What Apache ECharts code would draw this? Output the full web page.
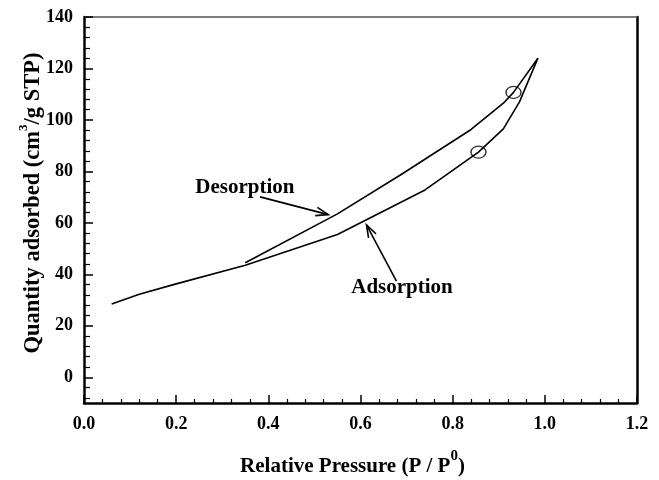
<!DOCTYPE html>
<html>
<head>
<meta charset="utf-8">
<script src="https://cdn.jsdelivr.net/npm/echarts@6/dist/echarts.min.js"></script>
<style>
  html, body { margin: 0; padding: 0; background: #fff; }
  #chart { width: 659px; height: 480px; }
</style>
</head>
<body>
<div id="chart"></div>
<script>
// Nitrogen isotherm: adsorption and desorption branches
const adsX = [0.06, 0.12, 0.20, 0.35, 0.55, 0.74, 0.856, 0.91, 0.945, 0.985];
const adsY = [28.5, 32.3, 36.3, 43.5, 55.5, 72.8, 87.5, 96.5, 107, 124];
const desX = [0.35, 0.55, 0.69, 0.84, 0.91, 0.932, 0.985];
const desY = [44.5, 63.5, 79, 96.3, 106.5, 110.7, 124];
// circled points on each branch
const circleX = [0.856, 0.932];
const circleY = [87.5, 110.7];
// axis ticks
const yMajor = [0, 20, 40, 60, 80, 100, 120, 140];
const yMinor = [-8, -4, 4, 8, 12, 16, 24, 28, 32, 36, 44, 48, 52, 56, 64, 68, 72, 76,
  84, 88, 92, 96, 104, 108, 112, 116, 124, 128, 132, 136];

const font = '"Liberation Serif", "Times New Roman", serif';
const pair = (xs, ys) => xs.map((v, i) => [v, ys[i]]);

const supRich = (size, supSize, lh) => ({
  a: { fontFamily: font, fontWeight: 'bold', fontSize: size, color: '#000', lineHeight: lh },
  s: { fontFamily: font, fontWeight: 'bold', fontSize: supSize, color: '#000', lineHeight: supSize, verticalAlign: 'top' }
});

const chart = echarts.init(document.getElementById('chart'));

chart.setOption({
  animation: false,
  grid: { left: 84, right: 22, top: 17, bottom: 77, containLabel: false, outerBoundsMode: 'none' },
  xAxis: [
    {
      type: 'value', min: 0, max: 1.2, interval: 0.2,
      axisLine: { show: true, onZero: false, lineStyle: { color: '#000', width: 2.5 } },
      axisTick: { show: true, inside: true, length: 8, lineStyle: { color: '#000', width: 1.5 } },
      minorTick: { show: true, splitNumber: 5, length: 4, lineStyle: { color: '#000', width: 1.2 } },
      splitLine: { show: false },
      axisLabel: { fontFamily: font, fontWeight: 'bold', fontSize: 18, color: '#000', margin: 12,
        formatter: v => v.toFixed(1) },
      name: '{a|Relative Pressure (P / P}{s|0}{a|)}',
      nameLocation: 'middle', nameGap: 46, nameMoveOverlap: false,
      nameTextStyle: { padding: [0, 16, 0, 0], rich: supRich(21, 15, 36) }
    },
    {
      type: 'value', min: 0, max: 1.2, position: 'top',
      axisLine: { show: true, onZero: false, lineStyle: { color: '#555', width: 1.5 } },
      axisTick: { show: false }, axisLabel: { show: false }, splitLine: { show: false }
    }
  ],
  yAxis: [
    {
      type: 'value', min: -10, max: 140,
      axisLine: { show: true, onZero: false, lineStyle: { color: '#000', width: 2.5 } },
      axisTick: { show: true, inside: true, length: 9, customValues: yMajor, lineStyle: { color: '#000', width: 1.5 } },
      splitLine: { show: false },
      axisLabel: { fontFamily: font, fontWeight: 'bold', fontSize: 18, color: '#000', margin: 11,
        customValues: yMajor },
      name: '{a|Quantity adsorbed (cm}{s|3}{a|/g STP)}',
      nameLocation: 'middle', nameGap: 35, nameMoveOverlap: false,
      nameTextStyle: { padding: [0, 0, 0, 14], rich: supRich(22.5, 13, 32) }
    },
    {
      // short intermediate ticks on the left axis
      type: 'value', min: -10, max: 140, position: 'left',
      axisLine: { show: false },
      axisTick: { show: true, inside: true, length: 6, customValues: yMinor, lineStyle: { color: '#000', width: 1.2 } },
      axisLabel: { show: false }, splitLine: { show: false }
    },
    {
      type: 'value', min: -10, max: 140, position: 'right',
      axisLine: { show: true, onZero: false, lineStyle: { color: '#000', width: 2.5 } },
      axisTick: { show: false }, axisLabel: { show: false }, splitLine: { show: false }
    }
  ],
  series: [
    {
      name: 'Adsorption', type: 'line', data: pair(adsX, adsY),
      showSymbol: false, lineStyle: { color: '#000', width: 1.6 }
    },
    {
      name: 'Desorption', type: 'line', data: pair(desX, desY),
      showSymbol: false, lineStyle: { color: '#000', width: 1.6 }
    },
    {
      name: 'marked', type: 'scatter', data: pair(circleX, circleY),
      symbol: 'circle', symbolSize: [15, 12],
      itemStyle: { color: 'rgba(0,0,0,0)', borderColor: '#000', borderWidth: 1.3 }
    }
  ]
});

// Branch labels with pointer arrows, placed in data coordinates
const notes = [
  { text: 'Desorption', at: [0.349, 73.6], from: [0.382, 70.1], to: [0.530, 63.2] },
  { text: 'Adsorption', at: [0.690, 34.8], from: [0.678, 37.4], to: [0.613, 59.2] }
];
const px = p => chart.convertToPixel({ xAxisIndex: 0, yAxisIndex: 0 }, p);
const graphics = [];
notes.forEach(n => {
  const c = px(n.at), a = px(n.from), b = px(n.to);
  graphics.push({
    type: 'text', x: c[0], y: c[1],
    style: { text: n.text, font: 'bold 21px ' + font, fill: '#000', align: 'center', verticalAlign: 'middle' }
  });
  const ang = Math.atan2(b[1] - a[1], b[0] - a[0]);
  const L = 13, w = 0.33;
  const h1 = [b[0] - L * Math.cos(ang - w), b[1] - L * Math.sin(ang - w)];
  const h2 = [b[0] - L * Math.cos(ang + w), b[1] - L * Math.sin(ang + w)];
  graphics.push({ type: 'polyline', shape: { points: [a, b] }, style: { stroke: '#000', lineWidth: 1.6, fill: null } });
  graphics.push({ type: 'polyline', shape: { points: [h1, b, h2] }, style: { stroke: '#000', lineWidth: 1.6, fill: null } });
});
chart.setOption({ graphic: graphics });
</script>
</body>
</html>
